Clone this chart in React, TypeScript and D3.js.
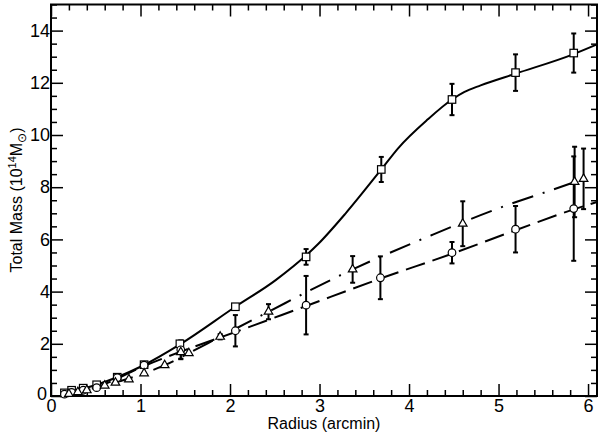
import * as React from 'react';
import * as d3 from 'd3';

// squares (solid fit)
const SQ_R = [0.15, 0.23, 0.36, 0.51, 0.74, 1.04, 1.44, 2.06, 2.85, 3.69, 4.48, 5.19, 5.84];
const SQ_M = [0.12, 0.22, 0.3, 0.43, 0.72, 1.2, 2.0, 3.42, 5.33, 8.68, 11.36, 12.39, 13.14];
const SQ_ERR = [0, 0, 0, 0, 0, 0, 0, 0, 0.3, 0.48, 0.6, 0.7, 0.75];
const SQ_FIT_R = [0.15, 0.5, 1.0, 1.45, 2.06, 2.51, 2.99, 3.29, 3.69, 3.88, 4.21, 4.48, 4.62, 4.8, 5.19, 5.84, 6.1];
const SQ_FIT_M = [0.1, 0.42, 1.12, 2.0, 3.42, 4.44, 5.84, 6.99, 8.68, 9.5, 10.6, 11.36, 11.65, 11.9, 12.35, 13.1, 13.47];

// circles (long dash fit)
const CI_R = [0.15, 0.23, 0.36, 0.51, 0.74, 1.04, 1.45, 2.06, 2.85, 3.68, 4.48, 5.19, 5.84];
const CI_M = [0.07, 0.14, 0.22, 0.32, 0.7, 1.18, 1.77, 2.5, 3.48, 4.53, 5.49, 6.39, 7.18];
const CI_ERR = [0, 0, 0, 0, 0, 0, 0.36, 0.6, 1.12, 0.82, 0.41, 0.89, 2.0];
const CI_FIT_R = [0.15, 0.5, 1.04, 1.45, 2.06, 2.85, 3.68, 4.48, 5.19, 5.84, 6.1];
const CI_FIT_M = [0.07, 0.33, 1.15, 1.7, 2.45, 3.45, 4.5, 5.45, 6.35, 7.15, 7.43];

// triangles (dash-dot fit)
const TR_R = [0.2, 0.3, 0.4, 0.6, 0.72, 0.87, 1.04, 1.27, 1.45, 1.54, 1.89, 2.43, 3.37, 4.6, 5.85, 5.95];
const TR_M = [0.08, 0.15, 0.22, 0.4, 0.51, 0.64, 0.87, 1.18, 1.68, 1.64, 2.27, 3.23, 4.85, 6.6, 8.2, 8.32];
const TR_ERR = [0, 0, 0, 0, 0, 0, 0, 0, 0.25, 0, 0.1, 0.29, 0.51, 0.86, 1.35, 1.16];
const TR_FIT_R = [0.2, 0.6, 1.04, 1.27, 1.54, 1.89, 2.43, 3.37, 4.25, 4.99, 5.66, 5.95];
const TR_FIT_M = [0.08, 0.4, 0.87, 1.18, 1.64, 2.27, 3.23, 4.85, 6.16, 7.18, 7.97, 8.32];

const X_TICKS = [0, 1, 2, 3, 4, 5, 6];
const Y_TICKS = [0, 2, 4, 6, 8, 10, 12, 14];

const FONT = '"Liberation Sans", Arial, Helvetica, sans-serif';

interface Pt {
    r: number;
    m: number;
    e: number;
}

const zip = (r: number[], m: number[], e?: number[]): Pt[] =>
    r.map((v, i) => ({ r: v, m: m[i], e: e ? e[i] : 0 }));

const App: React.FC = () => {
    const svgRef = React.useRef<SVGSVGElement>(null);

    React.useEffect(() => {
        const svg = d3.select(svgRef.current);
        svg.selectAll('*').remove();

        /** ******** Scales ********* */
        const L = 51;
        const R = 597;
        const T = 4.5;
        const B = 396;
        const x = d3.scaleLinear().domain([0, 6.1]).range([L, R]);
        const y = d3.scaleLinear().domain([0, 15]).range([B, T]);

        const minorX = d3.range(0, 6.1, 0.2).filter((v) => Math.abs(v - Math.round(v)) > 1e-6);
        const minorY = d3.range(0, 15.01, 0.5).filter((v) => Math.abs(v / 2 - Math.round(v / 2)) > 1e-6);

        /** ******** Axes ********* */
        const MAJOR = 12;
        const MINOR = 6;
        const axes = svg.append('g');
        const put = (axis: any, tr: string, labels: boolean) => {
            const gg = axes.append('g').attr('transform', tr).call(axis);
            gg.select('.domain').remove();
            gg.selectAll('line').attr('stroke', '#000').attr('stroke-width', 1.5);
            if (!labels) gg.selectAll('text').remove();
            else gg.selectAll('text').attr('font-family', FONT).attr('font-size', 18).attr('fill', '#000');
            return gg;
        };
        const fmt = (d: any) => String(d);
        put(d3.axisBottom(x).tickValues(X_TICKS).tickSize(-MAJOR).tickPadding(3).tickFormat(fmt), `translate(0,${B})`, true);
        put(d3.axisBottom(x).tickValues(minorX).tickSize(-MINOR).tickFormat(() => ''), `translate(0,${B})`, false);
        put(d3.axisTop(x).tickValues(X_TICKS).tickSize(-MAJOR), `translate(0,${T})`, false);
        put(d3.axisTop(x).tickValues(minorX).tickSize(-MINOR), `translate(0,${T})`, false);
        const yAx = put(d3.axisLeft(y).tickValues(Y_TICKS).tickSize(-MAJOR).tickPadding(1).tickFormat(fmt), `translate(${L},0)`, true);
        // the two zeros meet in the corner, as in the original; nudge the y one left
        yAx.selectAll('text').filter((d: any) => d === 0).attr('dx', -3).attr('dy', '0.2em');
        put(d3.axisLeft(y).tickValues(minorY).tickSize(-MINOR).tickFormat(() => ''), `translate(${L},0)`, false);
        put(d3.axisRight(y).tickValues(Y_TICKS).tickSize(-MAJOR), `translate(${R},0)`, false);
        put(d3.axisRight(y).tickValues(minorY).tickSize(-MINOR), `translate(${R},0)`, false);

        axes.append('rect')
            .attr('x', L)
            .attr('y', T)
            .attr('width', R - L)
            .attr('height', B - T)
            .attr('fill', 'none')
            .attr('stroke', '#000')
            .attr('stroke-width', 2);

        /** ******** Labels ********* */
        svg.append('text')
            .attr('x', (L + R) / 2)
            .attr('y', 429)
            .attr('text-anchor', 'middle')
            .attr('font-family', FONT)
            .attr('font-size', 16)
            .text('Radius (arcmin)');

        const yl = svg.append('text')
            .attr('transform', 'translate(22,200) rotate(-90)')
            .attr('text-anchor', 'middle')
            .attr('font-family', FONT)
            .attr('font-size', 16);
        yl.append('tspan').text('Total Mass (10');
        yl.append('tspan').attr('font-size', 11).attr('dy', -6).text('14');
        yl.append('tspan').attr('dy', 6).text('M');
        yl.append('tspan').attr('font-size', 12).attr('dy', 4).text('\u2299');
        yl.append('tspan').attr('dy', -4).text(')');

        /** ******** Fits ********* */
        const line = d3
            .line<Pt>()
            .x((d) => x(d.r))
            .y((d) => y(d.m))
            .curve(d3.curveMonotoneX);
        const plot = svg.append('g');
        plot.append('path')
            .datum(zip(SQ_FIT_R, SQ_FIT_M))
            .attr('d', line)
            .attr('fill', 'none')
            .attr('stroke', '#000')
            .attr('stroke-width', 2);
        plot.append('path')
            .datum(zip(CI_FIT_R, CI_FIT_M))
            .attr('d', line)
            .attr('fill', 'none')
            .attr('stroke', '#000')
            .attr('stroke-width', 2)
            .attr('stroke-dasharray', '20,8');
        plot.append('path')
            .datum(zip(TR_FIT_R, TR_FIT_M))
            .attr('d', line)
            .attr('fill', 'none')
            .attr('stroke', '#000')
            .attr('stroke-width', 2)
            .attr('stroke-dasharray', '22,10,2,10');

        /** ******** Error bars ********* */
        const CAP = 2.5;
        const errBars = (data: Pt[]) => {
            const eb = plot.append('g').attr('stroke', '#000').attr('stroke-width', 2);
            data.filter((d) => d.e > 0).forEach((d) => {
                const cx = x(d.r);
                eb.append('line').attr('x1', cx).attr('x2', cx).attr('y1', y(d.m - d.e)).attr('y2', y(d.m + d.e));
                [d.m - d.e, d.m + d.e].forEach((v) => {
                    eb.append('line').attr('x1', cx - CAP).attr('x2', cx + CAP).attr('y1', y(v)).attr('y2', y(v));
                });
            });
        };
        const sq = zip(SQ_R, SQ_M, SQ_ERR);
        const ci = zip(CI_R, CI_M, CI_ERR);
        const tr = zip(TR_R, TR_M, TR_ERR);
        errBars(sq);
        errBars(ci);
        errBars(tr);

        /** ******** Markers ********* */
        const S = 7.5;
        plot.append('g')
            .selectAll('rect')
            .data(sq)
            .enter()
            .append('rect')
            .attr('x', (d) => x(d.r) - S / 2)
            .attr('y', (d) => y(d.m) - S / 2)
            .attr('width', S)
            .attr('height', S)
            .attr('fill', '#fff')
            .attr('stroke', '#000')
            .attr('stroke-width', 1.2);
        plot.append('g')
            .selectAll('circle')
            .data(ci)
            .enter()
            .append('circle')
            .attr('cx', (d) => x(d.r))
            .attr('cy', (d) => y(d.m))
            .attr('r', 3.8)
            .attr('fill', '#fff')
            .attr('stroke', '#000')
            .attr('stroke-width', 1.2);
        const tri = d3.symbol().type(d3.symbolTriangle).size(32);
        plot.append('g')
            .selectAll('path')
            .data(tr)
            .enter()
            .append('path')
            .attr('d', tri)
            .attr('transform', (d) => `translate(${x(d.r)},${y(d.m)})`)
            .attr('fill', '#fff')
            .attr('stroke', '#000')
            .attr('stroke-width', 1.2);
    }, []);

    return (
        <svg
            ref={svgRef}
            width={600}
            height={435}
            style={{ position: 'absolute', left: 0, top: 0, background: '#fff' }}
        />
    );
};

export default App;
